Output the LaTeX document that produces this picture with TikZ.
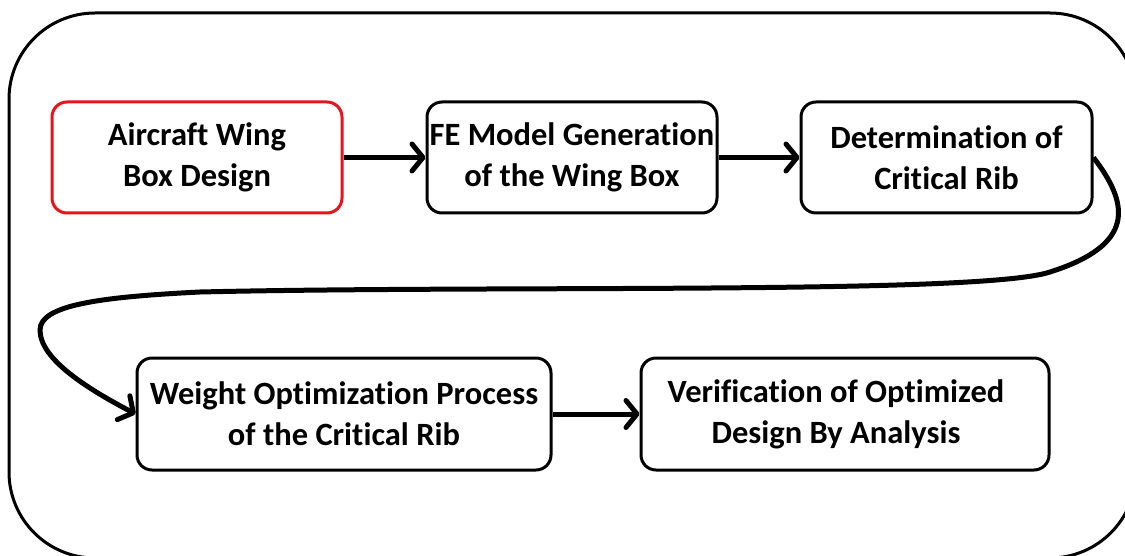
\documentclass[tikz,border=0pt]{standalone}
\usepackage{fontspec}
\newfontfamily\boxfont{Carlito}[BoldFont=* Bold, RawFeature={-liga;-clig;-dlig}]
\usetikzlibrary{arrows.meta}
\definecolor{boxred}{RGB}{232,20,28}
\tikzset{
  stepbox/.style={draw=black, line width=3pt, rounded corners=15pt, rectangle,
    align=center, inner sep=0pt, font=\boxfont\bfseries\fontsize{32.5}{41}\selectfont},
  flow/.style={line width=5pt, -{Straight Barb[length=11pt,width=27pt,round]}},
  frame/.style={draw=black, line width=3pt, rounded corners=86pt}
}
\begin{document}
\begin{tikzpicture}[x=1pt,y=-1pt]
\useasboundingbox (0,0) rectangle (1125,556);
\clip (0,0) rectangle (1125,556);
\draw[frame] (9,13) rectangle (1136,558);
\node[stepbox, draw=boxred, minimum width=290pt, minimum height=111pt] (b1) at (197,157.5) {\raisebox{-3pt}{Aircraft Wing}\\\raisebox{-3pt}{Box Design}};
\node[stepbox, minimum width=290pt, minimum height=111pt] (b2) at (572,157.5) {FE Model Generation\\of the Wing Box};
\node[stepbox, minimum width=291pt, minimum height=111pt] (b3) at (946.5,157.5) {Determination of\\Critical Rib};
\node[stepbox, minimum width=414pt, minimum height=112pt] (b4) at (344,414) {Weight Optimization Process\\of the Critical Rib};
\node[stepbox, minimum width=408pt, minimum height=112pt] (b5) at (845,414) {Verification of Optimized\hspace*{18pt}\\Design By Analysis\hspace*{18pt}};
\draw[flow] (b1.east) -- (b2.west);
\draw[flow] (b2.east) -- (b3.west);
\draw[flow] (b4.east) -- (b5.west);
\coordinate (c1) at (1050,272);
\coordinate (c2) at (200,292);
\coordinate (c3) at (40,330);
\draw[flow] (b3.east) .. controls (1130,205) and (1135,245) .. (c1)
  .. controls (980,295) and (500,285) .. (c2)
  .. controls (100,297) and (40,305) .. (c3)
  .. controls (40,360) and (90,390) .. (b4.west);
\end{tikzpicture}
\end{document}
